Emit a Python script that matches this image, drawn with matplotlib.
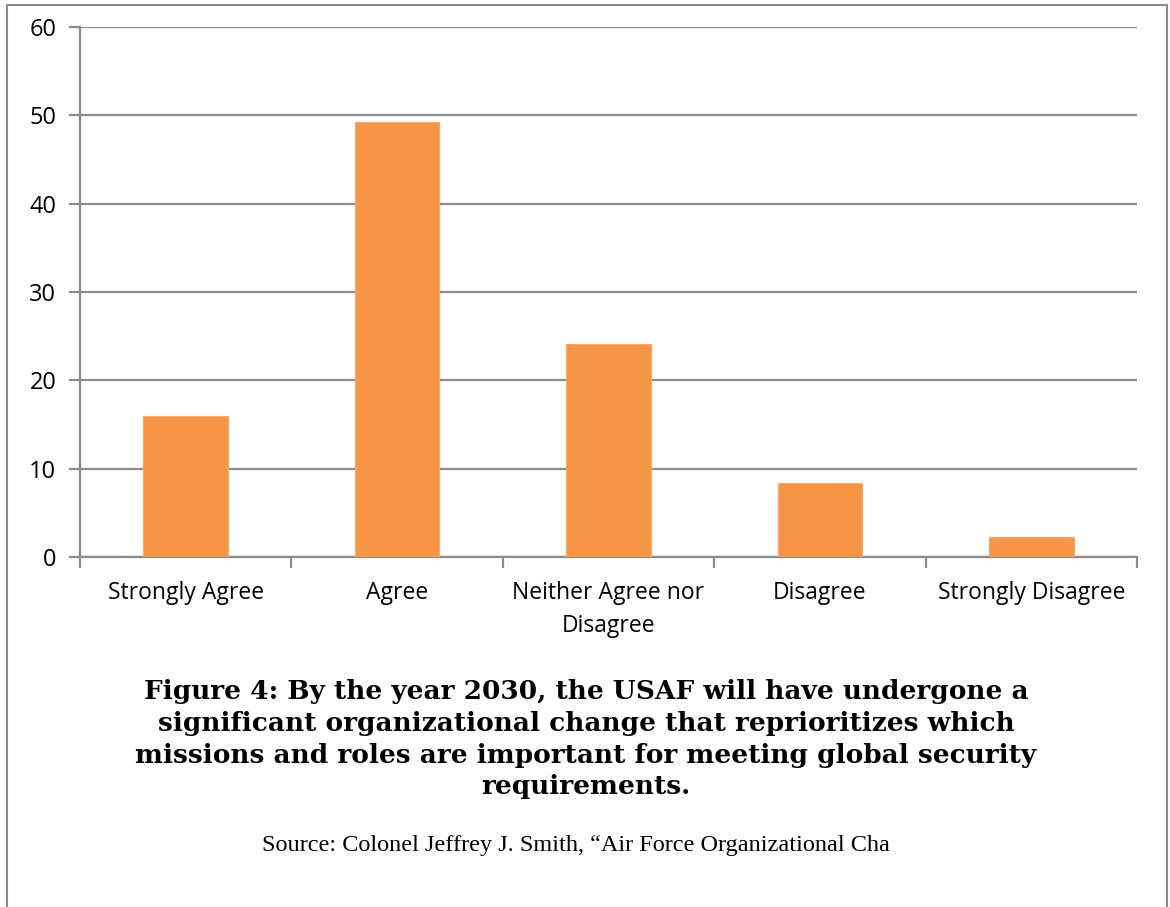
import matplotlib.pyplot as plt
from matplotlib.lines import Line2D

### Survey responses (percent)
categories = ["Strongly Agree", "Agree", "Neither Agree nor\nDisagree", "Disagree", "Strongly Disagree"]
values = [16.0, 49.2, 24.1, 8.4, 2.3]
yticks = [0, 10, 20, 30, 40, 50, 60]

caption = ("Figure 4: By the year 2030, the USAF will have undergone a\n"
           "significant organizational change that reprioritizes which\n"
           "missions and roles are important for meeting global security\n"
           "requirements.")
source = "Source: Colonel Jeffrey J. Smith, \u201cAir Force Organizational Cha"

W, H = 1170, 907
fig = plt.figure(figsize=(W / 100, H / 100), dpi=100)
ax = fig.add_axes([80 / W, 1 - 557 / H, (1137 - 80) / W, (557 - 27) / H])

grey = "#8c8c8c"
x = range(len(categories))
ax.bar(x, values, width=0.40, color="#F79646", edgecolor="#F9A86A", linewidth=0.8, zorder=3)

ax.set_xlim(-0.5, len(categories) - 0.5)
ax.set_ylim(0, 60)
ax.set_yticks(yticks)
ax.yaxis.grid(True, color=grey, linewidth=1.6, zorder=0)
for s in ["top", "right"]:
    ax.spines[s].set_visible(False)
for s in ["left", "bottom"]:
    ax.spines[s].set_color(grey)
    ax.spines[s].set_linewidth(1.6)

ax.set_xticks(x)
ax.set_xticklabels(categories, fontsize=16.5, family="Open Sans", linespacing=1.5)
ax.tick_params(axis="x", length=0, pad=17)
ax.set_xticks([i - 0.5 for i in range(len(categories) + 1)], minor=True)
ax.tick_params(axis="x", which="minor", length=8, width=1.6, color=grey)
ax.tick_params(axis="y", length=8, width=1.6, color=grey, labelsize=17, pad=9)
for lab in ax.get_yticklabels():
    lab.set_family("Open Sans")

fig.text(586 / W, 1 - 679 / H, caption, ha="center", va="top", fontsize=19,
         family="DejaVu Serif", weight="bold", linespacing=1.34)
fig.text(576 / W, 1 - 845 / H, source, ha="center", va="center", fontsize=17.5,
         family="Liberation Serif")

### outer frame (bottom edge is cut off)
for xs, ys in [([7, 7], [5, H]), ([7, 1167], [5, 5]), ([1167, 1167], [5, H])]:
    fig.add_artist(Line2D([v / W for v in xs], [1 - v / H for v in ys],
                          color=grey, linewidth=1.5, transform=fig.transFigure))

fig.savefig("out.png", dpi=100)
